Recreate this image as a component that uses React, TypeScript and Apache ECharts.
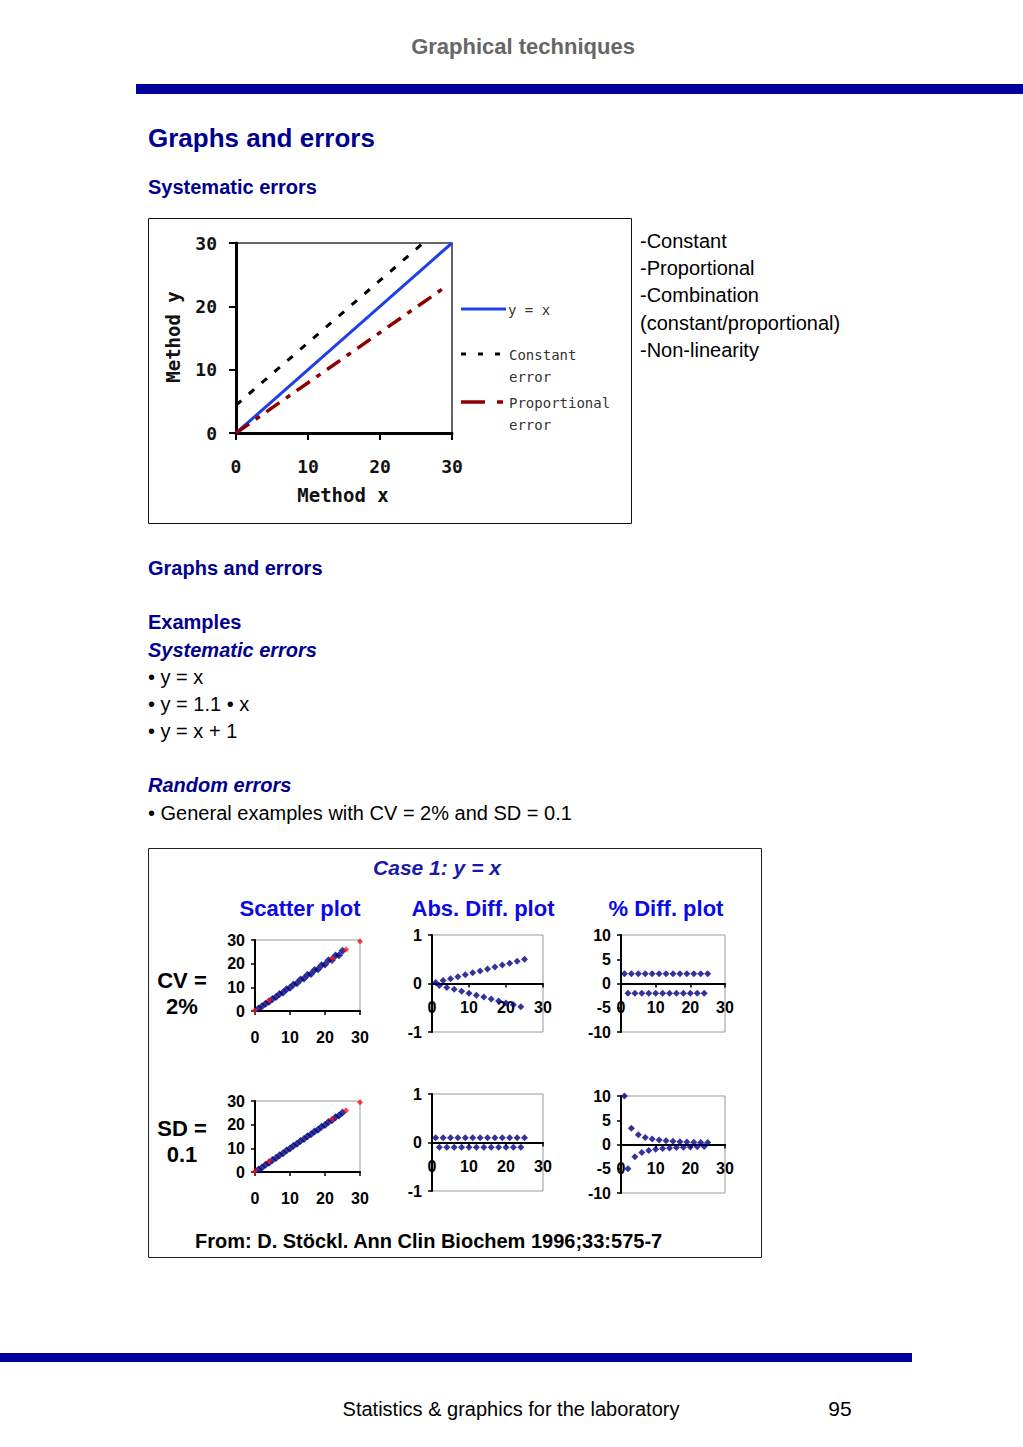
import React, { useEffect, useRef } from "react";
import * as echarts from "echarts";

// ---------- data ----------
const lineIdentity = [[0, 0], [30, 30]];
const lineConstant = [[0, 4.4], [26, 30]];
const lineProportional = [[0, 0], [29, 23]];

const scatterX = [1, 2, 3, 4, 5, 6, 7, 8, 9, 10, 11, 12, 13, 14, 15, 16, 17, 18, 19, 20, 21, 22, 23, 24, 25];
const cvScatterY = [1.02, 1.96, 3.06, 3.92, 5.1, 5.88, 7.14, 7.84, 9.18, 9.8, 11.22, 11.76, 13.26, 13.72, 15.3, 15.68, 17.34, 17.64, 19.38, 19.6, 21.42, 21.56, 23.46, 23.52, 25.5];
const sdScatterY = [1.1, 1.9, 3.1, 3.9, 5.1, 5.9, 7.1, 7.9, 9.1, 9.9, 11.1, 11.9, 13.1, 13.9, 15.1, 15.9, 17.1, 17.9, 19.1, 19.9, 21.1, 21.9, 23.1, 23.9, 25.1];
const refPoints = [[0, 0.3], [4, 4.5], [22, 22.3], [26, 26], [30, 29.5]];

const oddX = [1, 3, 5, 7, 9, 11, 13, 15, 17, 19, 21, 23, 25];
const evenX = [2, 4, 6, 8, 10, 12, 14, 16, 18, 20, 22, 24];
const cvAbsUpper = [0.02, 0.06, 0.1, 0.14, 0.18, 0.22, 0.26, 0.3, 0.34, 0.38, 0.42, 0.46, 0.5];
const cvAbsLower = [-0.04, -0.08, -0.12, -0.16, -0.2, -0.24, -0.28, -0.32, -0.36, -0.4, -0.44, -0.48];
const cvPctUpper = [2, 2, 2, 2, 2, 2, 2, 2, 2, 2, 2, 2, 2];
const cvPctLower = [-2, -2, -2, -2, -2, -2, -2, -2, -2, -2, -2, -2];
const sdAbsUpper = [0.1, 0.1, 0.1, 0.1, 0.1, 0.1, 0.1, 0.1, 0.1, 0.1, 0.1, 0.1, 0.1];
const sdAbsLower = [-0.1, -0.1, -0.1, -0.1, -0.1, -0.1, -0.1, -0.1, -0.1, -0.1, -0.1, -0.1];
const sdPctUpper = [10, 3.33, 2, 1.43, 1.11, 0.91, 0.77, 0.67, 0.59, 0.53, 0.48, 0.43, 0.4];
const sdPctLower = [-5, -2.5, -1.67, -1.25, -1, -0.83, -0.71, -0.63, -0.56, -0.5, -0.45, -0.42];

const listItems = ["-Constant", "-Proportional", "-Combination", "(constant/proportional)", "-Non-linearity"];
const bulletItems = ["• y = x", "• y = 1.1 • x", "• y = x + 1"];

const zip = (xs: number[], ys: number[]) => xs.map((x, i) => [x, ys[i]]);

// ---------- styles ----------
const SANS = '"Liberation Sans", Arial, sans-serif';
const MONO = '"DejaVu Sans Mono", monospace';
const NAVY = "#00008F";
const BAR = "#00009C";
const PT = "#000080";

function txt(text: string, x: number, y: number, font: string, fill: string, align = "left", extra: any = {}) {
  return {
    type: "text",
    x,
    y,
    ...extra,
    style: { text, font, fill, align, verticalAlign: "middle", textAlign: align, textVerticalAlign: "middle" },
  };
}

export default function App() {
  const ref = useRef<HTMLDivElement>(null);
  useEffect(() => {
    const chart = echarts.init(ref.current!, null, { renderer: "svg" });

    const smallLabel = { fontFamily: SANS, fontWeight: "bold", fontSize: 16, color: "#000" };

    const grids: any[] = [
      { left: 236, top: 243, width: 216, height: 190, show: true, borderColor: "#333", borderWidth: 1.5 },
      { left: 255, top: 940, width: 105, height: 71, show: true, borderColor: "#999", borderWidth: 1 },
      { left: 432, top: 935, width: 111, height: 97, show: true, borderColor: "#999", borderWidth: 1 },
      { left: 621, top: 935, width: 104, height: 97, show: true, borderColor: "#999", borderWidth: 1 },
      { left: 255, top: 1101, width: 105, height: 71, show: true, borderColor: "#999", borderWidth: 1 },
      { left: 432, top: 1094, width: 111, height: 97, show: true, borderColor: "#999", borderWidth: 1 },
      { left: 621, top: 1096, width: 104, height: 97, show: true, borderColor: "#999", borderWidth: 1 },
    ];

    const xAx = (g: number, margin: number, offset = 0) => ({
      type: "value",
      gridIndex: g,
      min: 0,
      max: 30,
      interval: 10,
      position: "bottom",
      offset,
      splitLine: { show: false },
      axisLine: { show: true, onZero: false, lineStyle: { color: "#000", width: 2 } },
      axisTick: { show: true, length: 4, lineStyle: { color: "#000", width: 1.5 } },
      axisLabel: { ...smallLabel, margin },
    });
    const yAx = (g: number, min: number, max: number, interval: number) => ({
      type: "value",
      gridIndex: g,
      min,
      max,
      interval,
      splitLine: { show: false },
      axisLine: { show: true, lineStyle: { color: "#000", width: 2 } },
      axisTick: { show: true, length: 4, lineStyle: { color: "#000", width: 1.5 } },
      axisLabel: { ...smallLabel, margin: 10 },
    });

    const xAxis: any[] = [
      {
        type: "value",
        gridIndex: 0,
        min: 0,
        max: 30,
        interval: 10,
        splitLine: { show: false },
        axisLine: { show: true, lineStyle: { color: "#000", width: 3 } },
        axisTick: { show: true, length: 7, lineStyle: { color: "#000", width: 2 } },
        axisLabel: { fontFamily: MONO, fontWeight: "bold", fontSize: 18, color: "#111", margin: 24 },
      },
      xAx(1, 18),
      xAx(2, 16, -48.5),
      xAx(3, 16, -48.5),
      xAx(4, 18),
      xAx(5, 16, -48.5),
      xAx(6, 16, -48.5),
    ];
    const yAxis: any[] = [
      {
        type: "value",
        gridIndex: 0,
        min: 0,
        max: 30,
        interval: 10,
        splitLine: { show: false },
        axisLine: { show: true, lineStyle: { color: "#000", width: 3 } },
        axisTick: { show: true, length: 7, lineStyle: { color: "#000", width: 2 } },
        axisLabel: { fontFamily: MONO, fontWeight: "bold", fontSize: 18, color: "#111", margin: 19 },
      },
      yAx(1, 0, 30, 10),
      yAx(2, -1, 1, 1),
      yAx(3, -10, 10, 5),
      yAx(4, 0, 30, 10),
      yAx(5, -1, 1, 1),
      yAx(6, -10, 10, 5),
    ];

    const pts = (i: number, data: number[][], color = PT, size = 7) => ({
      type: "scatter",
      xAxisIndex: i,
      yAxisIndex: i,
      symbol: "diamond",
      symbolSize: size,
      itemStyle: { color },
      data,
    });

    const series: any[] = [
      {
        type: "line", xAxisIndex: 0, yAxisIndex: 0, showSymbol: false, data: lineIdentity,
        lineStyle: { color: "#1F3FE8", width: 3 },
      },
      {
        type: "line", xAxisIndex: 0, yAxisIndex: 0, showSymbol: false, data: lineConstant,
        lineStyle: { color: "#000", width: 3, type: [7, 10] },
      },
      {
        type: "line", xAxisIndex: 0, yAxisIndex: 0, showSymbol: false, data: lineProportional,
        lineStyle: { color: "#8E0000", width: 3.5, type: [16, 8, 5, 8] },
      },
      pts(1, zip(scatterX, cvScatterY), PT, 8),
      pts(1, refPoints, "#FF1010", 6),
      pts(2, zip(oddX, cvAbsUpper)),
      pts(2, zip(evenX, cvAbsLower)),
      pts(3, zip(oddX, cvPctUpper)),
      pts(3, zip(evenX, cvPctLower)),
      pts(4, zip(scatterX, sdScatterY), PT, 8),
      pts(4, refPoints, "#FF1010", 6),
      pts(5, zip(oddX, sdAbsUpper)),
      pts(5, zip(evenX, sdAbsLower)),
      pts(6, zip(oddX, sdPctUpper)),
      pts(6, zip(evenX, sdPctLower)),
    ];

    const graphic: any[] = [
      txt("Graphical techniques", 523, 46, `bold 22px ${SANS}`, "#666666", "center"),
      { type: "rect", shape: { x: 136, y: 84, width: 887, height: 10 }, style: { fill: BAR } },
      txt("Graphs and errors", 148, 138, `bold 26px ${SANS}`, NAVY),
      txt("Systematic errors", 148, 187, `bold 20px ${SANS}`, NAVY),
      { type: "rect", shape: { x: 148.5, y: 218.5, width: 483, height: 305 }, style: { fill: "none", stroke: "#111", lineWidth: 1 } },
      txt("Method x", 343, 495, `bold 19px ${MONO}`, "#111", "center"),
      txt("Method y", 173, 337, `bold 19px ${MONO}`, "#111", "center", { rotation: Math.PI / 2 }),
      { type: "line", shape: { x1: 461, y1: 309, x2: 506, y2: 309 }, style: { stroke: "#1F3FE8", lineWidth: 3 } },
      txt("y = x", 508, 310, `14px ${MONO}`, "#333"),
      { type: "line", shape: { x1: 461, y1: 354, x2: 507, y2: 354 }, style: { stroke: "#000", lineWidth: 3, lineDash: [5, 12] } },
      txt("Constant", 509, 355, `14px ${MONO}`, "#333"),
      txt("error", 509, 377, `14px ${MONO}`, "#333"),
      { type: "line", shape: { x1: 461, y1: 402, x2: 485, y2: 402 }, style: { stroke: "#8E0000", lineWidth: 3.5 } },
      { type: "line", shape: { x1: 497, y1: 402, x2: 503, y2: 402 }, style: { stroke: "#8E0000", lineWidth: 3.5 } },
      txt("Proportional", 509, 403, `14px ${MONO}`, "#333"),
      txt("error", 509, 425, `14px ${MONO}`, "#333"),
      ...listItems.map((t, i) => txt(t, 640, 241 + i * 27.2, `20px ${SANS}`, "#000")),
      txt("Graphs and errors", 148, 568, `bold 20px ${SANS}`, NAVY),
      txt("Examples", 148, 622, `bold 20px ${SANS}`, NAVY),
      txt("Systematic errors", 148, 650, `italic bold 20px ${SANS}`, NAVY),
      ...bulletItems.map((t, i) => txt(t, 148, 677 + i * 27, `20px ${SANS}`, "#000")),
      txt("Random errors", 148, 785, `italic bold 20px ${SANS}`, NAVY),
      txt("• General examples with CV = 2% and SD = 0.1", 148, 813, `20px ${SANS}`, "#000"),
      { type: "rect", shape: { x: 148.5, y: 848.5, width: 613, height: 409 }, style: { fill: "none", stroke: "#222", lineWidth: 1 } },
      txt("Case 1: y = x", 437, 867, `italic bold 21px ${SANS}`, "#1A1AA8", "center"),
      txt("Scatter plot", 300, 908, `bold 22px ${SANS}`, "#0A0AE8", "center"),
      txt("Abs. Diff. plot", 483, 908, `bold 22px ${SANS}`, "#0A0AE8", "center"),
      txt("% Diff. plot", 666, 908, `bold 22px ${SANS}`, "#0A0AE8", "center"),
      txt("CV =", 182, 980, `bold 22px ${SANS}`, "#000", "center"),
      txt("2%", 182, 1006, `bold 22px ${SANS}`, "#000", "center"),
      txt("SD =", 182, 1128, `bold 22px ${SANS}`, "#000", "center"),
      txt("0.1", 182, 1154, `bold 22px ${SANS}`, "#000", "center"),
      txt("From: D. Stöckl. Ann Clin Biochem 1996;33:575-7", 195, 1241, `bold 20px ${SANS}`, "#000"),
      { type: "rect", shape: { x: 0, y: 1353, width: 912, height: 9 }, style: { fill: BAR } },
      txt("Statistics & graphics for the laboratory", 511, 1409, `20px ${SANS}`, "#000", "center"),
      txt("95", 840, 1408, `21px ${SANS}`, "#000", "center"),
    ];

    chart.setOption({
      animation: false,
      backgroundColor: "#fff",
      grid: grids,
      xAxis,
      yAxis,
      series,
      graphic,
    });
    return () => chart.dispose();
  }, []);

  return (
    <div
      ref={ref}
      style={{ position: "absolute", left: 0, top: 0, width: 1023, height: 1447, background: "#fff" }}
    />
  );
}
